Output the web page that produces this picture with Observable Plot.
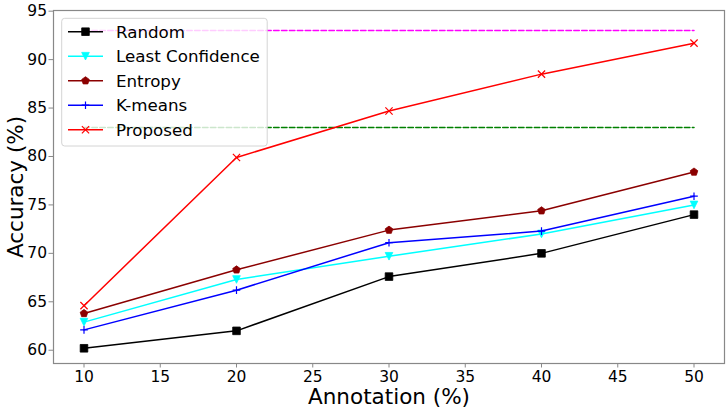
<!DOCTYPE html>
<html>
<head>
<meta charset="utf-8">
<script src="https://cdn.jsdelivr.net/npm/d3@7"></script>
<script src="https://cdn.jsdelivr.net/npm/@observablehq/plot@0.6"></script>
<style>
  html, body { margin: 0; padding: 0; background: #fff; }
  #chart svg { display: block; }
</style>
</head>
<body>
<div id="chart"></div>
<script>
// ---- data ----
const annotation = [10, 20, 30, 40, 50];
const random = [60.2, 62.0, 67.6, 70.0, 74.0];
const leastConfidence = [62.9, 67.3, 69.7, 72.0, 75.0];
const entropy = [63.8, 68.3, 72.4, 74.4, 78.4];
const kmeans = [62.1, 66.2, 71.1, 72.3, 75.9];
const proposed = [64.6, 79.9, 84.7, 88.5, 91.7];
const upperReference = 93.0;   // magenta dashed
const lowerReference = 83.0;   // green dashed
const xTicks = [10, 15, 20, 25, 30, 35, 40, 45, 50];
const yTicks = [60, 65, 70, 75, 80, 85, 90, 95];
const seriesNames = ["Random", "Least Confidence", "Entropy", "K-means", "Proposed"];

// ---- marker shapes (matplotlib-like) ----
const triangleDown = {draw(ctx, size) { const h = Math.sqrt(size) / 2;
  ctx.moveTo(0, h); ctx.lineTo(-h, -h); ctx.lineTo(h, -h); ctx.closePath(); }};
const pentagon = {draw(ctx, size) { const h = Math.sqrt(size) / 2 * 1.05;
  for (let k = 0; k < 5; k++) { const a = -Math.PI / 2 + k * 2 * Math.PI / 5;
    const px = h * Math.cos(a), py = h * Math.sin(a);
    if (k === 0) ctx.moveTo(px, py); else ctx.lineTo(px, py); }
  ctx.closePath(); }};
const plusThin = {draw(ctx, size) { const h = Math.sqrt(size) / 2;
  ctx.moveTo(-h, 0); ctx.lineTo(h, 0); ctx.moveTo(0, -h); ctx.lineTo(0, h); }};
const timesThin = {draw(ctx, size) { const h = Math.sqrt(size) / 2 * 0.95;
  ctx.moveTo(-h, -h); ctx.lineTo(h, h); ctx.moveTo(-h, h); ctx.lineTo(h, -h); }};

const styles = {
  "Random": {values: random, color: "#000000", symbol: d3.symbolSquare, filled: true},
  "Least Confidence": {values: leastConfidence, color: "#00ffff", symbol: triangleDown, filled: true},
  "Entropy": {values: entropy, color: "#8b0000", symbol: pentagon, filled: true},
  "K-means": {values: kmeans, color: "#0000ff", symbol: plusThin, filled: false},
  "Proposed": {values: proposed, color: "#ff0000", symbol: timesThin, filled: false}
};

const R = 4.3; // dot radius -> symbol size = PI*R^2
const symbolSize = Math.PI * R * R;

const rows = seriesNames.flatMap(name =>
  annotation.map((a, i) => ({series: name, annotation: a, accuracy: styles[name].values[i]})));

const refRows = [
  ...[annotation[0], annotation[annotation.length - 1]].map(a => ({ref: "upper", annotation: a, accuracy: upperReference})),
  ...[annotation[0], annotation[annotation.length - 1]].map(a => ({ref: "lower", annotation: a, accuracy: lowerReference}))
];

const marks = [
  Plot.line(refRows.filter(d => d.ref === "upper"), {x: "annotation", y: "accuracy", stroke: "#ff00ff", strokeWidth: 1.5, strokeDasharray: "5.5,2.4"}),
  Plot.line(refRows.filter(d => d.ref === "lower"), {x: "annotation", y: "accuracy", stroke: "#008000", strokeWidth: 1.5, strokeDasharray: "5.5,2.4"})
];
for (const name of seriesNames) {
  const s = styles[name];
  const data = rows.filter(d => d.series === name);
  marks.push(Plot.line(data, {x: "annotation", y: "accuracy", stroke: s.color, strokeWidth: 1.5}));
  marks.push(Plot.dot(data, {x: "annotation", y: "accuracy", r: R, symbol: s.symbol,
    fill: s.filled ? s.color : "none", stroke: s.color, strokeWidth: s.filled ? 0.8 : 1.2}));
}
marks.push(
  Plot.axisX({ticks: xTicks, tickSize: 4.5, tickPadding: 2.5, fontSize: 15.5, label: null, stroke: "#888", fill: "black", tickFormat: d => String(d)}),
  Plot.axisY({ticks: yTicks, tickSize: 4.5, tickPadding: 2, fontSize: 15.5, label: null, stroke: "#888", fill: "black", tickFormat: d => String(d)}),
  Plot.frame({stroke: "#888", strokeWidth: 1.2}),
  Plot.text(["Accuracy (%)"], {frameAnchor: "left", rotate: -90, dx: -37, textAnchor: "middle", lineAnchor: "middle", fontSize: 21.5, fill: "black"}),
  Plot.text(["Annotation (%)"], {frameAnchor: "bottom", dy: 34, textAnchor: "middle", lineAnchor: "middle", fontSize: 21.5, fill: "black"})
);

const chart = Plot.plot({
  width: 726,
  height: 410,
  marginLeft: 53,
  marginRight: 2,
  marginTop: 10,
  marginBottom: 47,
  style: {fontFamily: "DejaVu Sans", background: "#fff", overflow: "visible"},
  x: {domain: [8, 52]},
  y: {domain: [58.63, 95.07]},
  marks
});
document.getElementById("chart").appendChild(chart);

// ---- legend (upper left, inside axes) ----
const svg = d3.select(chart);
const lg = svg.append("g").attr("font-family", "DejaVu Sans").attr("text-anchor", "start");
lg.append("rect").attr("x", 61.7).attr("y", 18.3).attr("width", 205.5).attr("height", 127.7)
  .attr("rx", 3).attr("fill", "#fff").attr("fill-opacity", 0.8).attr("stroke", "#d4d4d4").attr("stroke-width", 1);
seriesNames.forEach((name, i) => {
  const s = styles[name];
  const cy = 31.7 + i * 24.5;
  lg.append("line").attr("x1", 68).attr("x2", 103).attr("y1", cy).attr("y2", cy)
    .attr("stroke", s.color).attr("stroke-width", 1.5);
  lg.append("path").attr("transform", `translate(85.5,${cy})`)
    .attr("d", d3.symbol(s.symbol, symbolSize)())
    .attr("fill", s.filled ? s.color : "none").attr("stroke", s.color).attr("stroke-width", s.filled ? 0.8 : 1.2);
  lg.append("text").attr("x", 116).attr("y", cy).attr("dy", "0.36em")
    .attr("text-anchor", "start")
    .attr("font-size", 16.7).attr("fill", "#000").text(name);
});
</script>
</body>
</html>
